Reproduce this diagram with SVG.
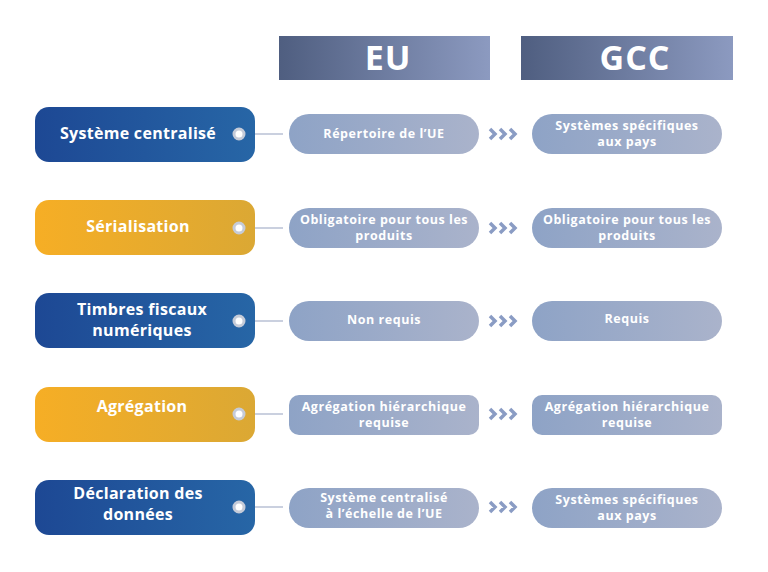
<svg xmlns="http://www.w3.org/2000/svg" width="768" height="572" viewBox="0 0 768 572">
<defs>
<linearGradient id="hd" x1="0" x2="1"><stop offset="0" stop-color="#4f5e80"/><stop offset="1" stop-color="#8c9ac0"/></linearGradient>
<linearGradient id="bl" x1="0" x2="1"><stop offset="0" stop-color="#1d4894"/><stop offset="1" stop-color="#2766a6"/></linearGradient>
<linearGradient id="or" x1="0" x2="1"><stop offset="0" stop-color="#f6ae25"/><stop offset="1" stop-color="#dba834"/></linearGradient>
<linearGradient id="pl" x1="0" x2="1"><stop offset="0" stop-color="#8ea3c6"/><stop offset="1" stop-color="#aab3cb"/></linearGradient>
<g id="chev" fill="none" stroke="#8a9cc4" stroke-width="3.5"><path d="M-15,-5 L-10,0 L-15,5 M-5,-5 L0,0 L-5,5 M5,-5 L10,0 L5,5"/></g>
</defs>
<style>
text{font-family:"Open Sans","Liberation Sans",sans-serif;font-weight:bold;fill:#fff;text-anchor:middle}
.h{font-size:34px;letter-spacing:1px}
.l{font-size:16px;letter-spacing:0.3px}
.p{font-size:12.5px;letter-spacing:0.55px}
.dot{fill:#fff;stroke:#c5cbd8;stroke-width:3}
</style>
<rect width="768" height="572" fill="#fff"/>
<g id="hdr-eu"><rect x="279" y="36" width="211" height="44" fill="url(#hd)"/><text class="h" x="388" y="70">EU</text></g>
<g id="hdr-gcc"><rect x="521" y="36" width="212" height="44" fill="url(#hd)"/><text class="h" x="635" y="70">GCC</text></g>
<g id="connectors" stroke="#b8c1d4" stroke-width="1.5">
<line x1="247" y1="134" x2="283" y2="134"/>
<line x1="247" y1="228" x2="283" y2="228"/>
<line x1="247" y1="321" x2="283" y2="321"/>
<line x1="247" y1="414" x2="283" y2="414"/>
<line x1="247" y1="507" x2="283" y2="507"/>
<use href="#chev" x="505" y="134"/><use href="#chev" x="505" y="228"/><use href="#chev" x="505" y="321"/><use href="#chev" x="505" y="414"/><use href="#chev" x="505" y="507"/>
</g>
<g id="n1"><rect x="35" y="107" width="220" height="55" rx="14" fill="url(#bl)"/><text class="l" x="138" y="139">Système centralisé</text><circle class="dot" cx="239" cy="134" r="5"/></g>
<g id="n2"><rect x="35" y="200" width="220" height="55" rx="14" fill="url(#or)"/><text class="l" x="138" y="232">Sérialisation</text><circle class="dot" cx="239" cy="228" r="5"/></g>
<g id="n3"><rect x="35" y="293" width="220" height="55" rx="14" fill="url(#bl)"/><text class="l" x="142" y="315">Timbres fiscaux</text><text class="l" x="142" y="336">numériques</text><circle class="dot" cx="239" cy="321" r="5"/></g>
<g id="n4"><rect x="35" y="387" width="220" height="55" rx="14" fill="url(#or)"/><text class="l" x="142" y="412">Agrégation</text><circle class="dot" cx="239" cy="414" r="5"/></g>
<g id="n5"><rect x="35" y="480" width="220" height="55" rx="14" fill="url(#bl)"/><text class="l" x="138" y="499">Déclaration des</text><text class="l" x="138" y="520">données</text><circle class="dot" cx="239" cy="507" r="5"/></g>
<g id="e1"><rect x="289" y="114" width="190" height="40" rx="20" fill="url(#pl)"/><text class="p" x="384" y="138">Répertoire de l’UE</text></g>
<g id="e2"><rect x="289" y="208" width="190" height="40" rx="20" fill="url(#pl)"/><text class="p" x="384" y="224">Obligatoire pour tous les</text><text class="p" x="384" y="240">produits</text></g>
<g id="e3"><rect x="289" y="301" width="190" height="40" rx="20" fill="url(#pl)"/><text class="p" x="384" y="324">Non requis</text></g>
<g id="e4"><rect x="289" y="395" width="190" height="40" rx="10" fill="url(#pl)"/><text class="p" x="384" y="411">Agrégation hiérarchique</text><text class="p" x="384" y="427">requise</text></g>
<g id="e5"><rect x="289" y="488" width="190" height="40" rx="20" fill="url(#pl)"/><text class="p" x="384" y="502">Système centralisé</text><text class="p" x="384" y="518">à l’échelle de l’UE</text></g>
<g id="g1"><rect x="532" y="114" width="190" height="40" rx="20" fill="url(#pl)"/><text class="p" x="627" y="130">Systèmes spécifiques</text><text class="p" x="627" y="146">aux pays</text></g>
<g id="g2"><rect x="532" y="208" width="190" height="40" rx="20" fill="url(#pl)"/><text class="p" x="627" y="224">Obligatoire pour tous les</text><text class="p" x="627" y="240">produits</text></g>
<g id="g3"><rect x="532" y="301" width="190" height="40" rx="20" fill="url(#pl)"/><text class="p" x="627" y="323">Requis</text></g>
<g id="g4"><rect x="532" y="395" width="190" height="40" rx="10" fill="url(#pl)"/><text class="p" x="627" y="411">Agrégation hiérarchique</text><text class="p" x="627" y="427">requise</text></g>
<g id="g5"><rect x="532" y="488" width="190" height="40" rx="20" fill="url(#pl)"/><text class="p" x="627" y="504">Systèmes spécifiques</text><text class="p" x="627" y="520">aux pays</text></g>
</svg>
